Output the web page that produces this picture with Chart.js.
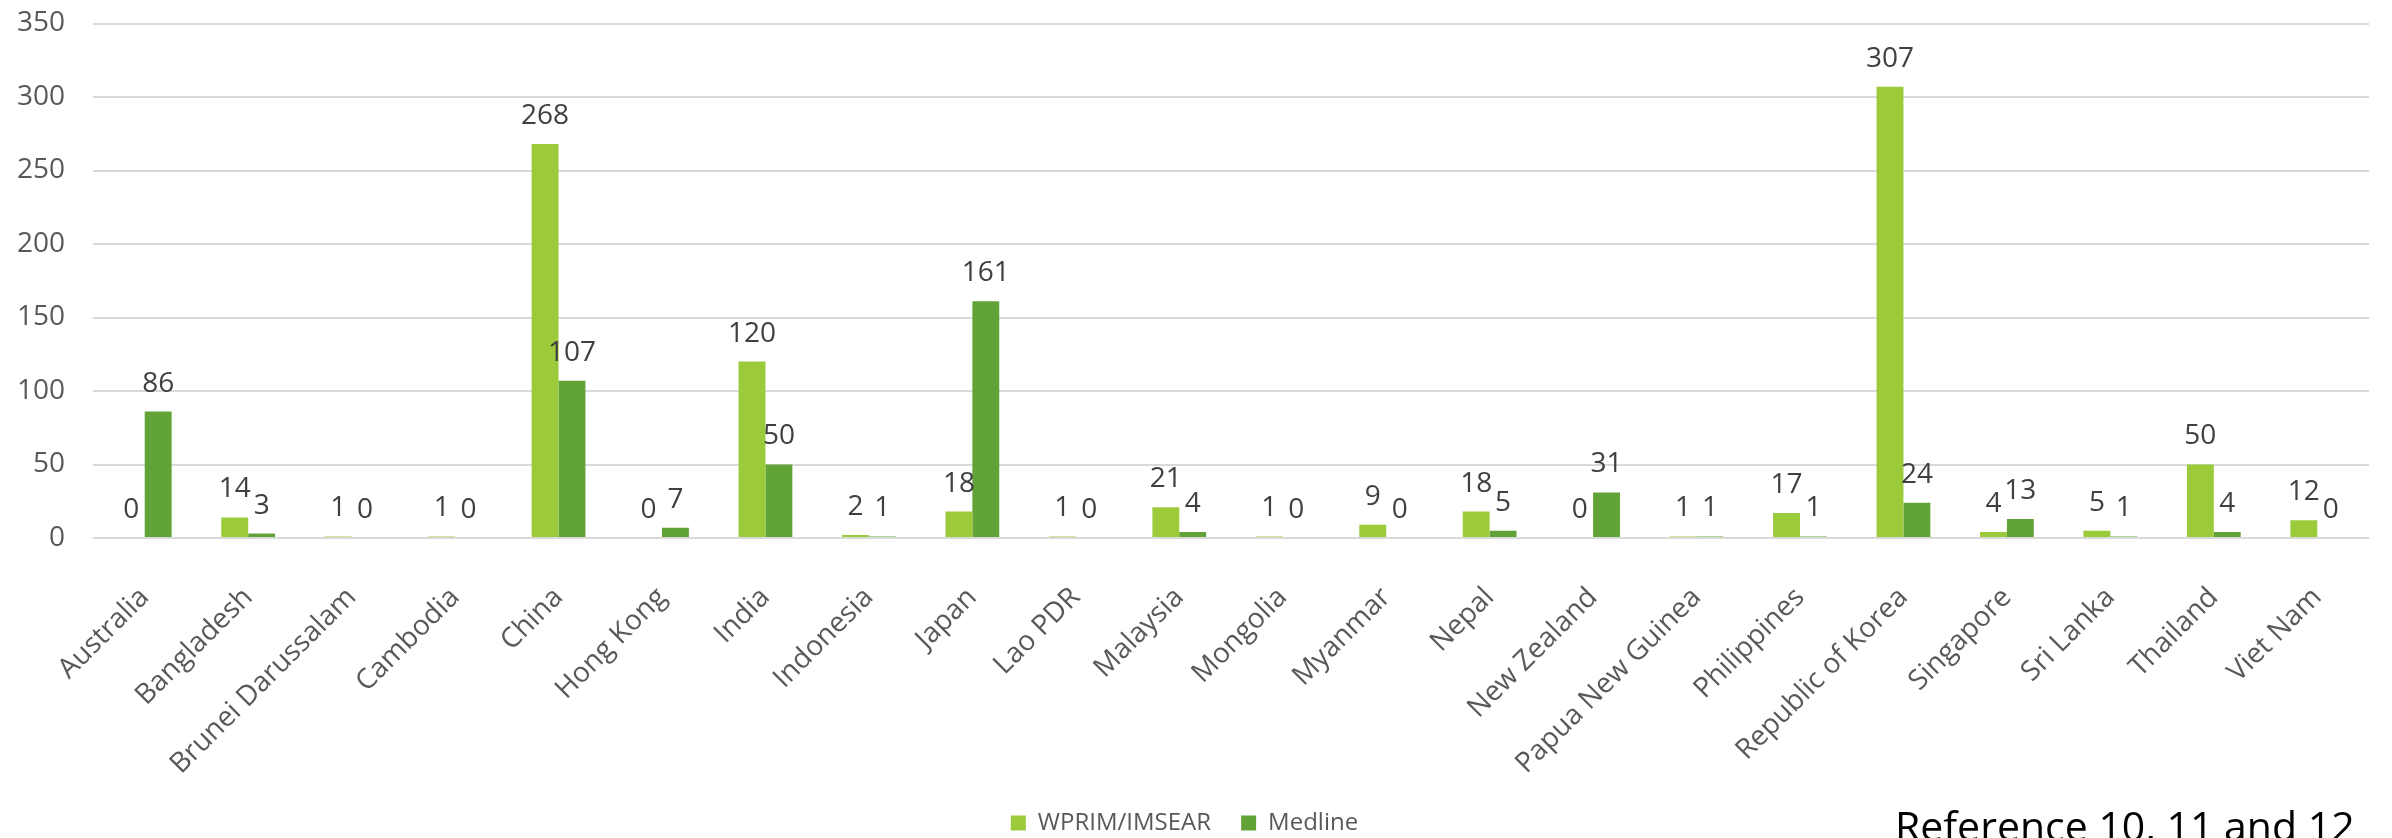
<!DOCTYPE html>
<html>
<head>
<meta charset="utf-8">
<title>Publications by country</title>
<script src="https://cdn.jsdelivr.net/npm/chart.js@4.4.1/dist/chart.umd.min.js"></script>
<style>
  html, body { margin: 0; padding: 0; background: #fff; overflow: hidden; }
  #wrap { position: relative; width: 2392px; height: 838px; }
</style>
</head>
<body>
<div id="wrap"><canvas id="chart"></canvas></div>
<script>
// Countries along the x axis
const countries = [
    'Australia', 'Bangladesh', 'Brunei Darussalam', 'Cambodia', 'China',
    'Hong Kong', 'India', 'Indonesia', 'Japan', 'Lao PDR', 'Malaysia',
    'Mongolia', 'Myanmar', 'Nepal', 'New Zealand', 'Papua New Guinea',
    'Philippines', 'Republic of Korea', 'Singapore', 'Sri Lanka', 'Thailand',
    'Viet Nam'
];

// Article counts per source
const wprimCounts = [0, 14, 1, 1, 268, 0, 120, 2, 18, 1, 21, 1, 9, 18, 0, 1, 17, 307, 4, 5, 50, 12];
const medlineCounts = [86, 3, 0, 0, 107, 7, 50, 1, 161, 0, 4, 0, 0, 5, 31, 1, 1, 24, 13, 1, 4, 0];

// Y axis range
const yMax = 350;
const yStep = 50;

const sourceNote = 'Reference 10, 11 and 12';

const FONT = "'Open Sans', sans-serif";

// Writes each bar's value just above it
const valueLabels = {
    id: 'valueLabels',
    afterDatasetsDraw(chart) {
        const ctx = chart.ctx;
        ctx.save();
        ctx.font = '28px ' + FONT;
        ctx.fillStyle = '#404040';
        ctx.textAlign = 'center';
        ctx.textBaseline = 'middle';
        chart.data.datasets.forEach((ds, i) => {
            const meta = chart.getDatasetMeta(i);
            meta.data.forEach((bar, j) => {
                ctx.fillText(String(ds.data[j]), bar.x, bar.y - 28);
            });
        });
        ctx.restore();
    }
};

// Source line in the bottom right corner
const footNote = {
    id: 'footNote',
    afterDraw(chart) {
        const ctx = chart.ctx;
        ctx.save();
        ctx.font = '41px ' + FONT;
        ctx.fillStyle = '#000';
        ctx.textAlign = 'left';
        ctx.textBaseline = 'alphabetic';
        ctx.fillText(sourceNote, 1895, 841);
        ctx.restore();
    }
};

new Chart(document.getElementById('chart'), {
    type: 'bar',
    data: {
        labels: countries,
        datasets: [
            {
                label: 'WPRIM/IMSEAR',
                data: wprimCounts,
                backgroundColor: '#9BCA3A',
                categoryPercentage: 0.52,
                barPercentage: 1.0
            },
            {
                label: 'Medline',
                data: medlineCounts,
                backgroundColor: '#62A337',
                categoryPercentage: 0.52,
                barPercentage: 1.0
            }
        ]
    },
    options: {
        responsive: true,
        maintainAspectRatio: false,
        animation: false,
        layout: { padding: { left: 0, right: 23, top: 23.5, bottom: 0 } },
        plugins: {
            tooltip: { enabled: false },
            legend: {
                position: 'bottom',
                maxHeight: 57,
                labels: {
                    font: { family: FONT, size: 24 },
                    color: '#595959',
                    boxWidth: 15,
                    boxHeight: 15,
                    padding: 30
                }
            }
        },
        scales: {
            x: {
                grid: { display: false },
                border: { display: false },
                ticks: {
                    font: { family: FONT, size: 28 },
                    color: '#595959',
                    minRotation: 45,
                    maxRotation: 45,
                    autoSkip: false,
                    padding: 35
                },
                afterFit(scale) { scale.height = 243; }
            },
            y: {
                min: 0,
                max: yMax,
                border: { display: false },
                grid: { color: '#D9D9D9', lineWidth: 2, drawTicks: false },
                ticks: {
                    stepSize: yStep,
                    font: { family: FONT, size: 28 },
                    color: '#595959',
                    padding: 28
                },
                afterFit(scale) {
                    // tick padding would otherwise push the plot area down
                    scale.width = 93;
                    scale.paddingTop = 0;
                    scale.paddingBottom = 0;
                }
            }
        }
    },
    plugins: [valueLabels, footNote]
});
</script>
</body>
</html>
